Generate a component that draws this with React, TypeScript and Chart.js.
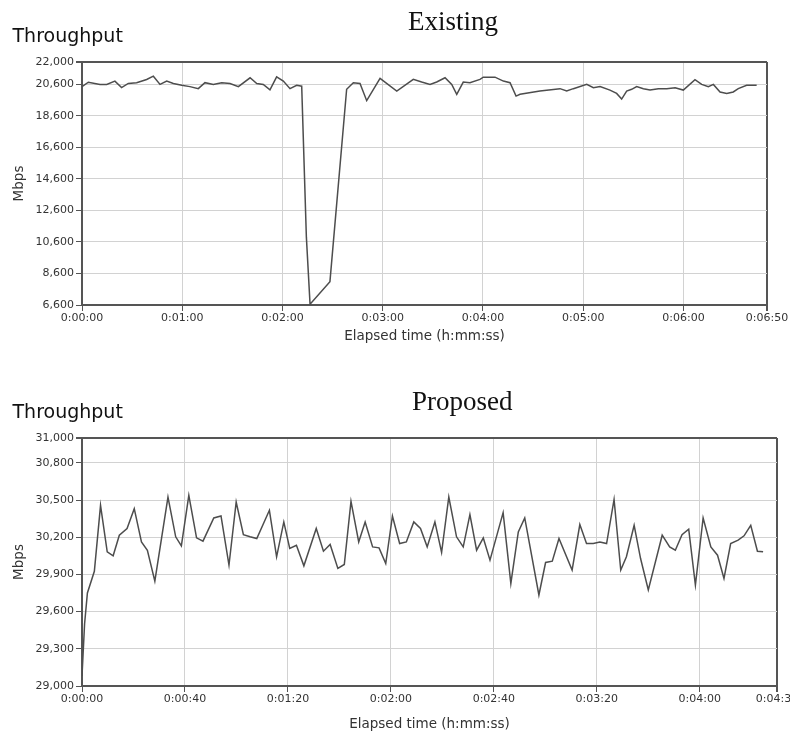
import React, { useEffect, useRef } from "react";
import { Chart, registerables } from "chart.js";

Chart.register(...registerables);

// ---------- Existing (top chart) ----------
const existingTimes = [
  0, 3.8, 10.8, 14.8, 19.7, 23.7, 27.7, 32.7, 38.7, 42.7, 46.7, 50.7, 54.7, 59.7, 64.6, 69.6,
  73.6, 78.6, 83.6, 88.6, 93.6, 100.6, 104.6, 108.5, 112.5, 116.5, 120.5, 124.5, 128.5, 131.5,
  134.3, 136.5, 148.4, 158.4, 162.4, 166.4, 170.4, 178.4, 188.4, 198.3, 203.3, 208.3, 212.3,
  217.3, 221.3, 224.3, 228.2, 232.2, 238.2, 240.2, 247.2, 252.2, 256.2, 259.8, 262.2, 274.1,
  286.1, 290.1, 294.1, 302.1, 306.1, 310.1, 316.0, 320.0, 323.0, 326.0, 329.0, 332.0, 336.0,
  340.0, 345.0, 350.0, 355.0, 359.9, 366.9, 370.9, 374.9, 377.9, 381.9, 385.9, 389.8, 392.8,
  397.8, 403.8,
];
const existingMbps = [
  20440, 20720, 20580, 20580, 20790, 20380, 20640, 20690, 20890, 21100, 20580, 20790, 20640,
  20520, 20440, 20310, 20690, 20580, 20690, 20640, 20440, 21000, 20640, 20580, 20230, 21060,
  20790, 20310, 20520, 20470, 10900, 6650, 8080, 20270, 20690, 20640, 19550, 20960, 20160,
  20900, 20730, 20580, 20730, 21000, 20580, 19950, 20730, 20690, 20900, 21040, 21040, 20790,
  20690, 19840, 19950, 20160, 20310, 20160, 20310, 20580, 20370, 20440, 20220, 20010, 19650,
  20160, 20270, 20440, 20310, 20220, 20310, 20310, 20370, 20220, 20880, 20580, 20440, 20580,
  20100, 20010, 20100, 20310, 20520, 20520,
];
const existingYTicks = [6600, 8600, 10600, 12600, 14600, 16600, 18600, 20600, 22000];
const existingXTicks = [0, 60, 120, 180, 240, 300, 360, 410];

// ---------- Proposed (bottom chart) ----------
const proposedTimes = [
  0, 1.0, 2.1, 4.8, 7.2, 9.8, 12.1, 14.5, 17.5, 20.3, 23.1, 25.4, 28.3, 33.4, 36.4, 38.6, 41.5,
  44.5, 47.0, 51.2, 54.0, 57.1, 59.9, 62.7, 65.3, 67.9, 72.8, 75.6, 78.4, 80.7, 83.3, 86.2, 91.0,
  93.8, 96.4, 99.4, 101.9, 104.5, 107.5, 110.0, 112.9, 115.4, 118.0, 120.6, 123.4, 126.0, 128.9,
  131.5, 134.1, 137.1, 139.7, 142.5, 145.5, 148.1, 150.7, 153.3, 155.9, 158.5, 163.6, 166.6,
  169.5, 172.0, 177.5, 180.1, 182.7, 185.3, 190.4, 193.4, 196.0, 198.6, 201.2, 203.8, 206.7,
  209.3, 211.5, 214.5, 217.0, 220.0, 225.4, 228.3, 230.5, 233.1, 235.7, 238.3, 241.3, 244.3,
  246.9, 249.4, 252.0, 254.9, 257.2, 259.8, 262.4, 264.6,
];
const proposedMbps = [
  29080, 29500, 29750, 29925, 30457, 30082, 30050, 30216, 30270, 30430, 30162, 30095, 29846,
  30524, 30203, 30130, 30537, 30195, 30168, 30355, 30371, 29975, 30484, 30221, 30203, 30189,
  30417, 30042, 30323, 30109, 30135, 29969, 30270, 30087, 30141, 29948, 29980, 30489, 30162,
  30323, 30122, 30114, 29988, 30371, 30149, 30162, 30323, 30270, 30122, 30323, 30077, 30524,
  30203, 30122, 30382, 30095, 30194, 30015, 30398, 29827, 30243, 30355, 29734, 29996, 30007,
  30189, 29935, 30302, 30149, 30149, 30162, 30149, 30505, 29935, 30042, 30296, 30028, 29774,
  30216, 30122, 30095, 30221, 30264, 29814, 30355, 30122, 30055, 29868, 30149, 30176, 30211,
  30296, 30087, 30082,
];
const proposedYTicks = [29000, 29300, 29600, 29900, 30200, 30500, 30800, 31000];
const proposedXTicks = [0, 40, 80, 120, 160, 200, 240, 270];

const yTitle = "Mbps";
const xTitle = "Elapsed time (h:mm:ss)";
const chartTitle = "Throughput";

function fmtTime(s: number): string {
  const h = Math.floor(s / 3600);
  const m = Math.floor((s % 3600) / 60);
  const sec = Math.round(s % 60);
  return `${h}:${String(m).padStart(2, "0")}:${String(sec).padStart(2, "0")}`;
}

const TICK_FONT = { family: "'DejaVu Sans', sans-serif", size: 11 };
const TITLE_FONT = { family: "'DejaVu Sans', sans-serif", size: 13.5 };
const GRID = "#d2d2d2";
const FRAME = "#555555";

type PanelProps = {
  top: number;
  height: number;
  times: number[];
  values: number[];
  xTicks: number[];
  yTicks: number[];
  padTop: number;
  padRight: number;
  xAxisHeight: number;
  xTitlePad: number;
};

function Panel(p: PanelProps) {
  const ref = useRef<HTMLCanvasElement | null>(null);
  useEffect(() => {
    if (!ref.current) return;
    const xMin = p.xTicks[0];
    const xMax = p.xTicks[p.xTicks.length - 1];
    const yMin = p.yTicks[0];
    const yMax = p.yTicks[p.yTicks.length - 1];
    const data = p.times.map((t, i) => ({ x: t, y: p.values[i] }));
    const chart = new Chart(ref.current, {
      type: "line",
      data: {
        datasets: [
          {
            data,
            borderColor: "#4d4d4d",
            borderWidth: 1.5,
            pointRadius: 0,
            tension: 0,
            fill: false,
          },
        ],
      },
      options: {
        responsive: false,
        maintainAspectRatio: false,
        animation: false,
        events: [],
        layout: { padding: { top: p.padTop, right: p.padRight, left: 0, bottom: 0 } },
        plugins: { legend: { display: false }, tooltip: { enabled: false }, title: { display: false } },
        scales: {
          x: {
            type: "linear",
            min: xMin,
            max: xMax,
            afterBuildTicks: (scale: any) => {
              scale.ticks = p.xTicks.map((v) => ({ value: v }));
            },
            afterFit: (scale: any) => {
              scale.height = p.xAxisHeight;
              scale.paddingLeft = 0;
              scale.paddingRight = 0;
            },
            ticks: {
              autoSkip: false,
              maxRotation: 0,
              minRotation: 0,
              padding: 1,
              color: "#333",
              font: TICK_FONT,
              callback: (v: any) => fmtTime(Number(v)),
            },
            grid: {
              color: (ctx: any) => (ctx.tick && ctx.tick.value === xMax ? FRAME : GRID),
              lineWidth: (ctx: any) => (ctx.tick && ctx.tick.value === xMax ? 2 : 1),
              tickColor: FRAME,
              tickLength: 6,
              drawTicks: true,
            },
            border: { display: true, color: FRAME, width: 2 },
            title: {
              display: true,
              text: xTitle,
              color: "#333",
              font: TITLE_FONT,
              padding: { top: 0, bottom: p.xTitlePad },
            },
          },
          y: {
            type: "linear",
            min: yMin,
            max: yMax,
            afterBuildTicks: (scale: any) => {
              scale.ticks = p.yTicks.map((v) => ({ value: v }));
            },
            afterFit: (scale: any) => {
              scale.width = 82;
              scale.paddingTop = 0;
              scale.paddingBottom = 0;
            },
            ticks: {
              autoSkip: false,
              padding: 2,
              color: "#333",
              font: TICK_FONT,
              callback: (v: any) => Number(v).toLocaleString("en-US"),
            },
            grid: {
              color: (ctx: any) => (ctx.tick && ctx.tick.value === yMax ? FRAME : GRID),
              lineWidth: (ctx: any) => (ctx.tick && ctx.tick.value === yMax ? 2 : 1),
              tickColor: FRAME,
              tickLength: 6,
              drawTicks: true,
            },
            border: { display: true, color: FRAME, width: 2 },
            title: {
              display: true,
              text: yTitle,
              color: "#333",
              font: TITLE_FONT,
              padding: { top: 11, bottom: 0 },
            },
          },
        },
      },
    } as any);
    return () => chart.destroy();
  }, []);
  return (
    <canvas
      ref={ref}
      width={790}
      height={p.height}
      style={{ position: "absolute", left: 0, top: p.top, width: 790, height: p.height }}
    />
  );
}

const headStyle = (top: number): React.CSSProperties => ({
  position: "absolute",
  left: 12.5,
  top,
  fontFamily: "'DejaVu Sans', sans-serif",
  fontSize: 19,
  lineHeight: "19px",
  color: "#111",
  whiteSpace: "nowrap",
});

const serifStyle = (left: number, top: number): React.CSSProperties => ({
  position: "absolute",
  left,
  top,
  fontFamily: "'Liberation Serif', 'Times New Roman', serif",
  fontSize: 27,
  lineHeight: "27px",
  color: "#111",
  whiteSpace: "nowrap",
});

export default function App() {
  return (
    <div
      style={{
        position: "absolute",
        left: 0,
        top: 0,
        width: 790,
        height: 736,
        background: "#fff",
        overflow: "hidden",
      }}
    >
      <Panel
        top={0}
        height={360}
        times={existingTimes}
        values={existingMbps}
        xTicks={existingXTicks}
        yTicks={existingYTicks}
        padTop={62}
        padRight={23}
        xAxisHeight={55}
        xTitlePad={15}
      />
      <Panel
        top={360}
        height={376}
        times={proposedTimes}
        values={proposedMbps}
        xTicks={proposedXTicks}
        yTicks={proposedYTicks}
        padTop={78}
        padRight={13}
        xAxisHeight={50}
        xTitlePad={3}
      />
      <div style={headStyle(25.5)}>{chartTitle}</div>
      <div style={serifStyle(408, 8)}>Existing</div>
      <div style={headStyle(402)}>{chartTitle}</div>
      <div style={serifStyle(412, 387.5)}>Proposed</div>
    </div>
  );
}
